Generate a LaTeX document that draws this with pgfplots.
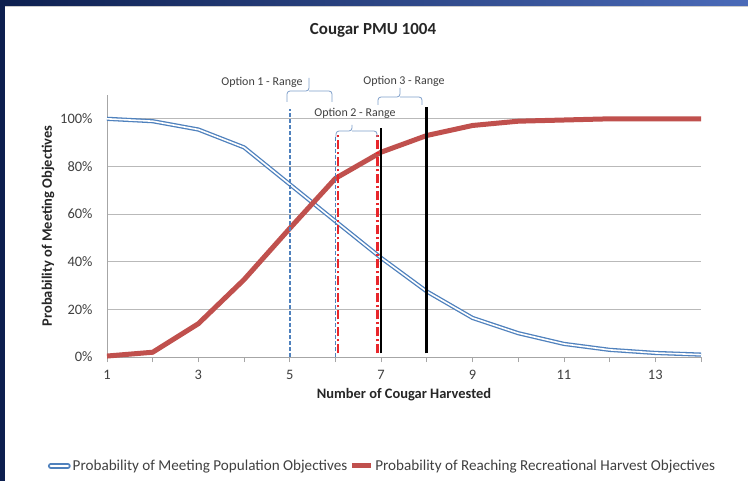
\documentclass[border=0pt]{standalone}
\usepackage{pgfplots}
\pgfplotsset{compat=1.18}
\usepackage{fontspec}
\setmainfont{Carlito}
\definecolor{navy}{HTML}{0D1F4F}
\definecolor{topblue}{HTML}{4A6AB8}
\definecolor{xlblue}{HTML}{4F81BD}
\definecolor{xlred}{HTML}{C0504D}
\definecolor{ddred}{HTML}{E8262B}
\definecolor{bracecol}{HTML}{7F9FCB}
\definecolor{txt}{HTML}{404040}
\newcommand{\optbrace}[6]{%
  \draw[bracecol, line width=0.8bp, rounded corners=3bp]
    (#1bp,{(481-#4)*1bp}) |- (#5bp,{(481-#3)*1bp}) -- (#5bp,{(481-#6)*1bp});
  \draw[bracecol, line width=0.8bp, rounded corners=3bp]
    (#2bp,{(481-#4)*1bp}) |- (#5bp,{(481-#3)*1bp});
}
\begin{document}
\begin{tikzpicture}
\useasboundingbox (0,0) rectangle (748bp,481bp);
\fill[white] (0,0) rectangle (748bp,481bp);
\shade[left color=navy, right color=topblue] (0,475bp) rectangle (748bp,481bp);
\draw[gray!40, line width=0.8bp] (0,474.6bp) -- (748bp,474.6bp);
\fill[navy] (0,0) rectangle (5bp,481bp);
\begin{axis}[
  at={(107bp,124bp)}, anchor=south west,
  scale only axis, width=594bp, height=262bp,
  xmin=1, xmax=14, ymin=0, ymax=110,
  axis lines*=left,
  axis line style={draw=gray!70, line width=0.8bp},
  xtick={1,3,...,13}, minor xtick={2,4,...,14},
  ytick={0,20,...,100},
  yticklabel={\pgfmathprintnumber{\tick}\%},
  /pgf/number format/assume math mode=true,
  tick align=outside,
  xtick style={draw=gray!70, line width=0.8bp},
  minor x tick style={draw=gray!70, line width=0.8bp},
  major tick length=5bp, minor tick length=5bp,
  ytick style={draw=none},
  ymajorgrids, grid style={draw=gray!55, line width=0.8bp},
  tick label style={font=\fontsize{14.5}{15}\selectfont, text=txt},
  xticklabel style={yshift=-5bp},
  yticklabel style={xshift=-6bp},
  xlabel={\bfseries Number of Cougar Harvested},
  xlabel style={font=\fontsize{14.5}{15}\selectfont, text=black!85, yshift=-2bp},
  ylabel={\bfseries Probability of Meeting Objectives},
  ylabel style={font=\fontsize{14.5}{15}\selectfont, text=black!85, yshift=-1bp},
  clip=false,
  legend columns=2,
  legend style={at={(0.4638,-0.416)}, anchor=center, draw=none, fill=none,
    font=\fontsize{15.2}{16}\selectfont, text=txt,
    /tikz/every even column/.append style={column sep=0bp}},
]
\addplot[xlblue, line width=1.3bp, double=white, double distance=1.6bp,
  legend image code/.code={\draw[xlblue, line width=1.6bp, double=white, double distance=2.6bp, line cap=round] (2bp,0bp) -- (19bp,0bp);}]
coordinates {(1,100) (2,99) (3,95.5) (4,88) (5,72.5) (6,57) (7,41.6) (8,27.5) (9,16.4) (10,10) (11,5.5) (12,3) (13,1.7) (14,1)};
\addlegendentry{Probability of Meeting Population Objectives}
\addplot[xlred, line width=5bp,
  legend image code/.code={\draw[xlred, line width=5bp] (0bp,0bp) -- (19bp,0bp);}]
coordinates {(1,0.4) (2,2) (3,14) (4,32.5) (5,54) (6,75) (7,86) (8,93) (9,97.2) (10,99) (11,99.5) (12,100) (13,100) (14,100)};
\addlegendentry{Probability of Reaching Recreational Harvest Objectives}
\addplot[xlblue, line width=1.5bp, dash pattern=on 4bp off 2bp, forget plot] coordinates {(5,0) (5,104)};
\addplot[xlblue, line width=1.5bp, dash pattern=on 4bp off 2bp, forget plot] coordinates {(6,0) (6,93)};
\addplot[ddred, line width=2.2bp, dash pattern=on 9bp off 3bp on 2bp off 3bp, forget plot] coordinates {(6.05,1.5) (6.05,94)};
\addplot[ddred, line width=2.2bp, dash pattern=on 9bp off 3bp on 2bp off 3bp, forget plot] coordinates {(6.92,1.5) (6.92,93)};
\addplot[black, line width=1.6bp, forget plot] coordinates {(7,1.5) (7,96)};
\addplot[black, line width=3bp, forget plot] coordinates {(8,1.5) (8,105)};
\end{axis}
\node[font=\bfseries\fontsize{17}{19}\selectfont, text=black!85] at (373bp,451bp) {Cougar PMU 1004};
\optbrace{287}{332}{91}{102}{309}{78}
\optbrace{378}{422}{97}{105}{400}{88}
\optbrace{336}{377}{131}{137}{352}{125}
\node[font=\fontsize{12}{13}\selectfont, text=txt] at (262bp,399bp) {Option 1 - Range};
\node[font=\fontsize{12}{13}\selectfont, text=txt] at (404bp,400bp) {Option 3 - Range};
\node[font=\fontsize{12}{13}\selectfont, text=txt] at (355bp,368bp) {Option 2 - Range};
\end{tikzpicture}
\end{document}
